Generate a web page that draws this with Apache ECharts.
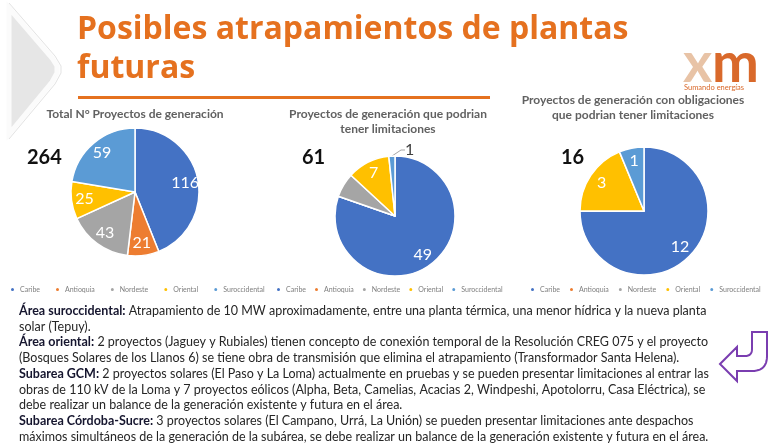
<!DOCTYPE html>
<html>
<head>
<meta charset="utf-8">
<script src="https://cdn.jsdelivr.net/npm/echarts@6/dist/echarts.min.js"></script>
<style>
  html, body { margin: 0; padding: 0; background: #ffffff; }
  #chart { width: 781px; height: 443px; }
</style>
</head>
<body>
<div id="chart"></div>
<script>
// Regions used in every pie and legend
const categories = ['Caribe', 'Antioquia', 'Nordeste', 'Oriental', 'Suroccidental'];
const regionColors = ['#4472C4', '#ED7D31', '#A5A5A5', '#FFC000', '#5B9BD5'];

// Project counts per region
const totalProjects = [116, 21, 43, 25, 59];
const limitedProjects = [49, 0, 4, 7, 1];
const obligationProjects = [12, 0, 0, 3, 1];

// Pie headings
const pieTitles = [
  'Total N° Proyectos de generación',
  'Proyectos de generación que podrian\ntener limitaciones',
  'Proyectos de generación con obligaciones\nque podrian tener limitaciones'
];

const pageTitle = 'Posibles atrapamientos de plantas\nfuturas';

// Notes under the charts: [bold lead, body] for each printed line
const noteLines = [
  ['Área suroccidental:', ' Atrapamiento de 10 MW aproximadamente, entre una planta térmica, una menor hídrica y la nueva planta'],
  ['', 'solar (Tepuy).'],
  ['Área oriental:', ' 2 proyectos (Jaguey y Rubiales) tienen concepto de conexión temporal de la Resolución CREG 075 y el proyecto'],
  ['', '(Bosques Solares de los Llanos 6) se tiene obra de transmisión que elimina el atrapamiento (Transformador Santa Helena).'],
  ['Subarea GCM:', ' 2 proyectos solares (El Paso y La Loma) actualmente en pruebas y se pueden presentar limitaciones al entrar las'],
  ['', 'obras de 110 kV de la Loma y 7 proyectos eólicos (Alpha, Beta, Camelias, Acacias 2, Windpeshi, Apotolorru, Casa Eléctrica), se'],
  ['', 'debe realizar un balance de la generación existente y futura en el área.'],
  ['Subarea Córdoba-Sucre:', ' 3 proyectos solares (El Campano, Urrá, La Unión) se pueden presentar limitaciones ante despachos'],
  ['', 'máximos simultáneos de la generación de la subárea, se debe realizar un balance de la generación existente y futura en el área.']
];

const chart = echarts.init(document.getElementById('chart'), null, { renderer: 'canvas' });

const sum = arr => arr.reduce((a, b) => a + b, 0);
const toData = vals => categories.map((name, i) => ({ name, value: vals[i] }));

// Layout of the three pies; "outside" names a slice tagged outside the pie
const pies = [
  { values: totalProjects, center: [135, 192], r: 64, total: [27, 148], title: [130, 102], hide: [], outside: null },
  { values: limitedProjects, center: [395, 216], r: 60, total: [302, 148], title: [383, 102], hide: ['Nordeste', 'Suroccidental'], outside: 'Suroccidental', outsideAt: [405, 150] },
  { values: obligationProjects, center: [644, 211], r: 64, total: [561, 148], title: [628, 88], hide: [], outside: null }
];

const series = [];
// Slices
pies.forEach((p, k) => {
  series.push({
    type: 'pie',
    name: 'pie' + k,
    center: p.center,
    radius: [0, p.r],
    startAngle: 90,
    clockwise: true,
    avoidLabelOverlap: false,
    data: toData(p.values).map(d => d.name === p.outside ? Object.assign(d, {
      label: { show: true },
      labelLine: { show: true }
    }) : d),
    itemStyle: { borderColor: '#ffffff', borderWidth: 1.5 },
    label: {
      show: false, position: 'outside', color: '#404040', fontSize: 16,
      fontFamily: 'Lato', formatter: prm => String(prm.value)
    },
    labelLine: { show: false, length: 4, length2: 4, lineStyle: { color: '#A6A6A6', width: 1 } },
    labelLayout: prm => (categories[prm.dataIndex] === p.outside
      ? { x: p.outsideAt[0], y: p.outsideAt[1], align: 'left', verticalAlign: 'middle' }
      : {}),
    silent: true
  });
});
// Value labels, set at three quarters of the radius
pies.forEach((p, k) => {
  series.push({
    type: 'pie',
    name: 'labels' + k,
    center: p.center,
    radius: [0, p.r * 1.5],
    startAngle: 90,
    clockwise: true,
    avoidLabelOverlap: false,
    data: toData(p.values),
    itemStyle: { color: 'rgba(0,0,0,0)', borderWidth: 0 },
    label: {
      show: true, position: 'inside', color: '#ffffff', fontSize: 16,
      fontFamily: 'Lato',
      formatter: prm => (prm.value > 0 && p.hide.indexOf(prm.name) < 0) ? String(prm.value) : ''
    },
    labelLine: { show: false },
    silent: true,
    z: 5
  });
});

const legendBase = {
  data: categories,
  icon: 'circle',
  itemWidth: 5,
  itemHeight: 5,
  top: 281,
  orient: 'horizontal',
  textStyle: { fontSize: 7, color: '#7F7F7F', fontFamily: 'Lato' },
  selectedMode: false
};

const noteText = noteLines.map(([b, r]) =>
  (b ? '{b|' + b + '}' : '') + '{r|' + r + '}'
).join('\n');

// Outline of the hooked return arrow, curves sampled into points
function quad(p0, c, p1, n) {
  const pts = [];
  for (let i = 1; i <= n; i++) {
    const t = i / n, u = 1 - t;
    pts.push([u * u * p0[0] + 2 * u * t * c[0] + t * t * p1[0], u * u * p0[1] + 2 * u * t * c[1] + t * t * p1[1]]);
  }
  return pts;
}
const arrowPoints = [
  [720, 364], [737, 347], [737, 356], [745, 356],
  ...quad([745, 356], [752, 356], [752, 349], 8),
  [752, 332], [767, 332], [767, 356],
  ...quad([767, 356], [767, 371], [752, 371], 12),
  [737, 371], [737, 381]
];

const option = {
  backgroundColor: '#ffffff',
  animation: false,
  color: regionColors,
  title: pies.map((p, k) => ({
    text: pieTitles[k],
    left: p.title[0],
    top: p.title[1],
    textAlign: 'center',
    textStyle: { fontSize: 12, fontWeight: 'bold', color: '#616161', fontFamily: 'Lato', lineHeight: 15 }
  })),
  legend: [
    Object.assign({}, legendBase, { left: 4, itemGap: 14 }),
    Object.assign({}, legendBase, { left: 270, itemGap: 7 }),
    Object.assign({}, legendBase, { left: 524, itemGap: 8 })
  ],
  series,
  graphic: {
    elements: [
      // side chevron
      {
        type: 'polygon', z: -2,
        shape: { points: [[9, 8], [52, 58], [57, 66], [57, 73], [52, 82], [9, 134]] },
        style: { fill: '#E6E6E6', stroke: '#FBFBFB', lineWidth: 5 }
      },
      {
        type: 'polyline', z: -1,
        shape: { points: [[9, 3], [55, 56], [61, 66], [61, 73], [55, 84], [9, 139]] },
        style: { fill: null, stroke: '#E3E3E3', lineWidth: 1 }
      },
      // page heading
      {
        type: 'text', x: 77, y: 10,
        style: {
          text: pageTitle, fill: '#E5711F', fontSize: 32, fontWeight: 'bold',
          fontFamily: 'Open Sans', lineHeight: 39
        }
      },
      {
        type: 'rect', shape: { x: 78, y: 96, width: 412, height: 3 },
        style: { fill: '#E5711F' }
      },
      // company mark
      {
        type: 'text', x: 683, y: 36,
        style: { text: 'x', fontSize: 56, fontFamily: 'Lato', fontWeight: 'bold', fill: '#E8C3A6' }
      },
      {
        type: 'text', x: 712, y: 36,
        style: { text: 'm', fontSize: 56, fontFamily: 'Lato', fontWeight: 'bold', fill: '#D9692B' }
      },
      {
        type: 'text', x: 684, y: 84,
        style: { text: 'Sumando energías', fontSize: 7.5, fontFamily: 'Lato', fill: '#D9692B' }
      },
      // totals next to each pie
      ...pies.map(p => ({
        type: 'text', x: p.total[0], y: p.total[1],
        style: {
          text: String(sum(p.values)), fontSize: 20, fontWeight: 'bold',
          fontFamily: 'Lato', fill: '#111111'
        }
      })),
      // notes
      {
        type: 'text', x: 19, y: 303,
        style: {
          text: noteText,
          lineHeight: 15.75,
          rich: {
            b: { fontSize: 12.5, fontWeight: 'bold', fontFamily: 'Lato', fill: '#15152E', lineHeight: 15.75 },
            r: { fontSize: 12.5, fontFamily: 'Lato', fill: '#262626', lineHeight: 15.75 }
          }
        }
      },
      // return arrow
      {
        type: 'polygon',
        shape: { points: arrowPoints },
        style: { fill: '#ffffff', stroke: '#7A3DB0', lineWidth: 2 }
      }
    ]
  }
};

chart.setOption(option);
</script>
</body>
</html>
